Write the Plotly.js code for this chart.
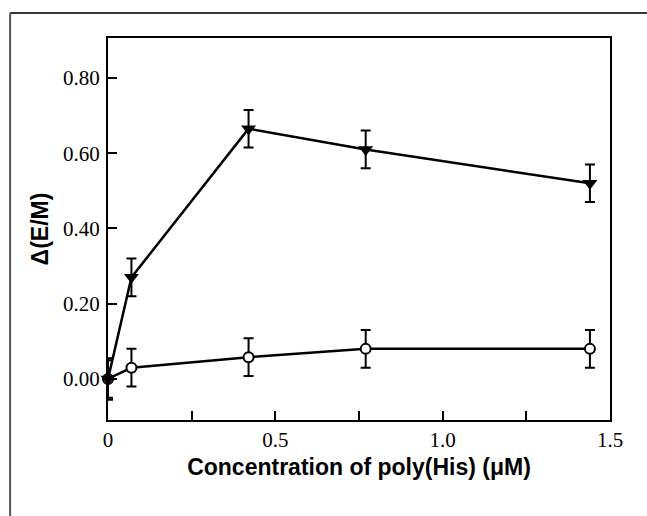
<!DOCTYPE html>
<html>
<head>
<meta charset="utf-8">
<script src="https://cdn.plot.ly/plotly-3.0.1.min.js"></script>
<style>html,body{margin:0;padding:0;background:#fff;}#chart{width:647px;height:516px;}</style>
</head>
<body>
<div id="chart"></div>
<script>
// Data
const concentration = [0, 0.07, 0.42, 0.77, 1.44];
const filledSeries = [0.00, 0.27, 0.665, 0.61, 0.52];
const filledError = [0.05, 0.05, 0.05, 0.05, 0.05];
const openSeries = [0.00, 0.03, 0.058, 0.08, 0.08];
const openError = [0.055, 0.05, 0.05, 0.05, 0.05];
const xTickValues = [0, 0.25, 0.5, 0.75, 1.0, 1.25, 1.5];
const xTickLabels = ['0', '', '0.5', '', '1.0', '', '1.5'];
const yTickValues = [0, 0.2, 0.4, 0.6, 0.8];
const yTickLabels = ['0.00', '0.20', '0.40', '0.60', '0.80'];

const traces = [
  {
    x: concentration, y: openSeries, type: 'scatter', mode: 'lines+markers',
    line: {color: '#000', width: 2.5},
    marker: {symbol: 'circle', size: 10, color: '#fff', line: {color: '#000', width: 2}},
    error_y: {type: 'data', array: openError, visible: true, color: '#000', thickness: 2, width: 5},
    cliponaxis: false, showlegend: false
  },
  {
    x: concentration, y: filledSeries, type: 'scatter', mode: 'lines+markers',
    line: {color: '#000', width: 2.5},
    marker: {symbol: 'triangle-down', size: 13, color: '#000'},
    error_y: {type: 'data', array: filledError, visible: true, color: '#000', thickness: 2, width: 5},
    cliponaxis: false, showlegend: false
  }
];

const axisCommon = {
  showline: true, linecolor: '#000', linewidth: 2, mirror: true,
  ticks: 'inside', ticklen: 9, tickwidth: 2, tickcolor: '#000',
  showgrid: false, zeroline: false,
  tickfont: {family: 'Liberation Serif, Times New Roman, serif', size: 21, color: '#000'}
};

const layout = {
  width: 647, height: 516,
  margin: {l: 108, r: 37, t: 38, b: 96},
  paper_bgcolor: '#fff', plot_bgcolor: '#fff',
  xaxis: Object.assign({}, axisCommon, {
    range: [0, 1.5], tickmode: 'array', tickvals: xTickValues, ticktext: xTickLabels,
    title: {text: 'Concentration of poly(His) (μM)', standoff: 8,
      font: {family: 'Liberation Sans, Arial, sans-serif', size: 23, color: '#000', weight: 'bold'}}
  }),
  yaxis: Object.assign({}, axisCommon, {
    range: [-0.109, 0.906], tickmode: 'array', tickvals: yTickValues, ticktext: yTickLabels,
    ticklabelstandoff: 2,
    title: {text: 'Δ(E/M)', standoff: 8,
      font: {family: 'Liberation Sans, Arial, sans-serif', size: 23, color: '#000', weight: 'bold'}}
  }),
  shapes: [
    {type: 'line', xref: 'paper', yref: 'paper', x0: -0.195, x1: 1.08, y0: 1.0654, y1: 1.0654,
     line: {color: '#333', width: 2}},
    {type: 'line', xref: 'paper', yref: 'paper', x0: -0.195, x1: -0.195, y0: 1.0654, y1: -0.26,
     line: {color: '#555', width: 2}}
  ]
};

Plotly.newPlot('chart', traces, layout, {displayModeBar: false, staticPlot: true});
</script>
</body>
</html>
